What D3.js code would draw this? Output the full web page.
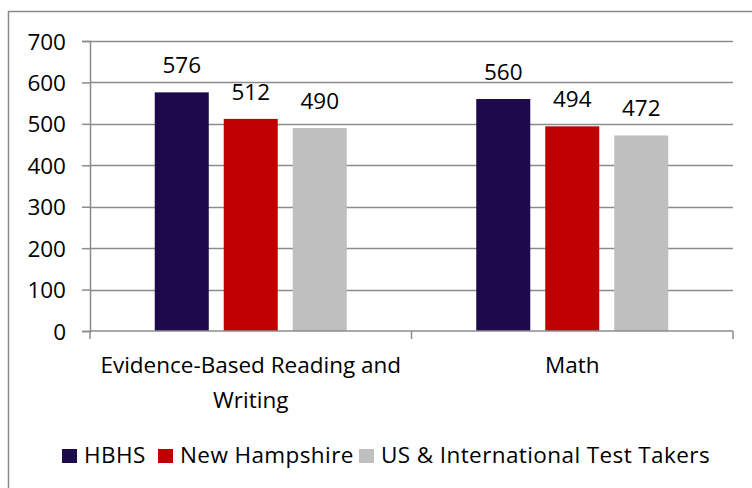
<!DOCTYPE html>
<html>
<head>
<meta charset="utf-8">
<script src="https://cdn.jsdelivr.net/npm/d3@7"></script>
<style>
  body { margin: 0; background: #fff; }
  svg text { font-family: "Open Sans", Lato, sans-serif; fill: #000; }
</style>
</head>
<body>
<div id="chart"></div>
<script>
// chart data
var categories = ["Evidence-Based Reading and Writing", "Math"]
var series = ["HBHS", "New Hampshire", "US & International Test Takers"]
var hbhs = [576, 560]
var newHampshire = [512, 494]
var usIntl = [490, 472]
var yTicks = [0, 100, 200, 300, 400, 500, 600, 700]
var colors = ["#1c0a4c", "#c00000", "#bfbfbf"]

var values = [hbhs, newHampshire, usIntl]
var fs = "22.5px"

// size of the page and the plot area
var W = 752, H = 488
var margin = {top: 41, right: 19, bottom: 157, left: 90},
width = W - margin.left - margin.right,
height = H - margin.top - margin.bottom;

var svg = d3.select("#chart")
	.append("svg")
		.attr("width", W)
		.attr("height", H)

// outer frame (runs off the right and bottom edge)
svg.append("rect")
	.attr("x", 8.5).attr("y", 11.5)
	.attr("width", 800).attr("height", 600)
	.attr("fill", "none")
	.attr("stroke", "#8a8a8a")
	.attr("stroke-width", 1.5)

var g = svg.append("g")
	.attr("transform", "translate(" + margin.left + "," + margin.top + ")");

// scales
var x0 = d3.scaleBand()
	.domain(categories)
	.range([0, width])

var groupW = 192
var x1 = d3.scaleBand()
	.domain(series)
	.range([(x0.bandwidth() - groupW) / 2, (x0.bandwidth() + groupW) / 2])
	.paddingInner(0.217)

var y = d3.scaleLinear()
	.domain([0, 700])
	.range([height, 0])

// gridlines
g.selectAll(".grid")
	.data(yTicks.filter(function(d) { return d > 0 }))
	.enter().append("line")
		.attr("x1", 0).attr("x2", width)
		.attr("y1", function(d) { return Math.round(y(d)) + 0.5 })
		.attr("y2", function(d) { return Math.round(y(d)) + 0.5 })
		.attr("stroke", "#8c8c8c")
		.attr("stroke-width", 1.5)

// y axis
var yAxis = g.append("g")
	.call(d3.axisLeft(y).tickValues(yTicks).tickSize(8).tickPadding(16))
yAxis.select(".domain").attr("stroke", "#8c8c8c").attr("stroke-width", 1.5)
yAxis.selectAll(".tick line").attr("stroke", "#8c8c8c").attr("stroke-width", 1.5)
yAxis.selectAll("text").style("font-size", fs).attr("dy", "0.36em")

// bars
var grp = g.selectAll(".cat")
	.data(categories)
	.enter().append("g")
		.attr("transform", function(d) { return "translate(" + x0(d) + ",0)" })

grp.selectAll("rect")
	.data(function(d, i) { return series.map(function(s, j) { return {s: s, v: values[j][i], j: j} }) })
	.enter().append("rect")
		.attr("x", function(d) { return x1(d.s) })
		.attr("y", function(d) { return y(d.v) })
		.attr("width", x1.bandwidth())
		.attr("height", function(d) { return height - y(d.v) })
		.attr("fill", function(d) { return colors[d.j] })

// value labels
grp.selectAll(".lbl")
	.data(function(d, i) { return series.map(function(s, j) { return {s: s, v: values[j][i]} }) })
	.enter().append("text")
		.attr("x", function(d) { return x1(d.s) + x1.bandwidth() / 2 })
		.attr("y", function(d) { return y(d.v) - 19 })
		.attr("text-anchor", "middle")
		.style("font-size", fs)
		.text(function(d) { return d.v })

// x axis with boundary ticks
var xa = g.append("g").attr("transform", "translate(0," + height + ")")
xa.append("line")
	.attr("x1", 0).attr("x2", width).attr("y1", 0).attr("y2", 0)
	.attr("stroke", "#8c8c8c").attr("stroke-width", 1.5)
xa.selectAll(".xt")
	.data([0, x0(categories[1]), width])
	.enter().append("line")
		.attr("x1", function(d) { return d }).attr("x2", function(d) { return d })
		.attr("y1", 0).attr("y2", 8)
		.attr("stroke", "#8c8c8c").attr("stroke-width", 1.5)

// category labels (first one wraps)
var catLines = [["Evidence-Based Reading and", "Writing"], ["Math"]]
categories.forEach(function(c, i) {
	catLines[i].forEach(function(line, k) {
		xa.append("text")
			.attr("x", x0(c) + x0.bandwidth() / 2)
			.attr("y", 42 + k * 35)
			.attr("text-anchor", "middle")
			.style("font-size", fs)
			.text(line)
	})
})

// legend
var legX = [62, 158, 359]
var leg = svg.selectAll(".leg")
	.data(series)
	.enter().append("g")
		.attr("transform", function(d, i) { return "translate(" + legX[i] + ",449)" })
leg.append("rect")
	.attr("width", 15).attr("height", 14)
	.attr("fill", function(d, i) { return colors[i] })
leg.append("text")
	.attr("x", 22).attr("y", 14)
	.style("font-size", fs)
	.style("letter-spacing", "0.4px")
	.text(function(d) { return d })
</script>
</body>
</html>
